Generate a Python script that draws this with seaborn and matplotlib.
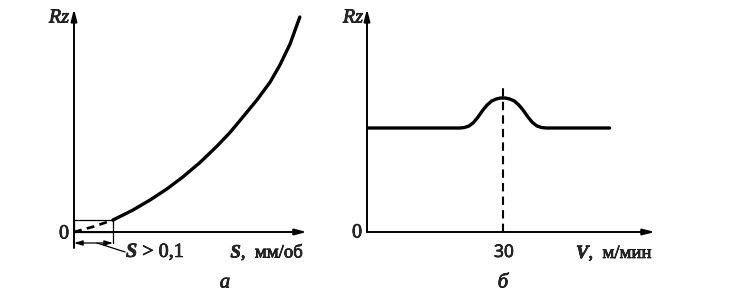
import matplotlib
matplotlib.use("Agg")
import matplotlib.pyplot as plt
import matplotlib.patheffects as pe
import seaborn as sns
from matplotlib.patches import Rectangle

# ---------------- data ----------------
# panel "а": Rz vs feed S (mm/rev), arbitrary Rz units
S_feed = [0, 0.100, 0.149, 0.195, 0.238, 0.279, 0.323, 0.367, 0.400,
          0.433, 0.469, 0.503, 0.528, 0.554, 0.579]
Rz_feed = [0, 1.2, 2.15, 3.2, 4.3, 5.5, 6.95, 8.6, 9.95,
           11.5, 13.2, 15.0, 16.7, 18.8, 21.5]
S_limit = 0.1          # boundary S > 0,1
S_dash = [0, 0.051, 0.100]
Rz_dash = [0, 0.55, 1.2]

# panel "б": Rz vs cutting speed V (m/min)
V_speed = [0, 20.5, 21.5, 22.5, 23.5, 24.5, 25.5, 26.5, 27.5, 28.5, 29.5,
           30.5, 31.5, 32.5, 33.5, 34.5, 35.5, 36.5, 37.5, 38.5, 39.5, 53.5]
Rz_speed = [10.4, 10.4, 10.45, 10.6, 10.95, 11.5, 12.15, 12.7, 13.1, 13.3,
            13.4, 13.4, 13.3, 13.1, 12.7, 12.15, 11.5, 10.95, 10.6, 10.45,
            10.4, 10.4]
V_peak = 30
V_tick_label = "30"

# ---------------- style ----------------
sns.set_style("white")
plt.rcParams["font.family"] = ["Liberation Serif", "DejaVu Serif"]
plt.rcParams["mathtext.fontset"] = "custom"
plt.rcParams["mathtext.rm"] = "Liberation Serif"
plt.rcParams["mathtext.it"] = "Liberation Serif:italic:bold"

W, H = 733, 296
fig = plt.figure(figsize=(W / 100, H / 100), dpi=100)

thick = [pe.withStroke(linewidth=0.5, foreground="black")]


def px_axes(l, r, t, b):
    return fig.add_axes([l / W, 1 - b / H, (r - l) / W, (b - t) / H])


def ftext(x, y, s, **kw):
    kw.setdefault("ha", "center")
    kw.setdefault("va", "center")
    kw.setdefault("fontsize", 13.5)
    kw.setdefault("path_effects", thick)
    fig.text(x / W, 1 - y / H, s, **kw)


ax_arrow = dict(arrowstyle="-|>,head_length=0.7,head_width=0.18", lw=1.4,
                color="black", shrinkA=0, shrinkB=0)

# ---------------- panel а ----------------
axL = px_axes(74, 310, 8, 257)
axL.set_xlim(0, 236 / 390)
axL.set_ylim(-2.5, 22.4)
axL.axis("off")

sns.lineplot(x=S_feed[1:], y=Rz_feed[1:], ax=axL, color="black", lw=2.4,
             sort=False)
sns.lineplot(x=S_dash, y=Rz_dash, ax=axL, color="black", lw=1.9,
             sort=False)
axL.lines[-1].set_dashes([3, 2])

axL.annotate("", xy=(0.597, 0), xytext=(0, 0), arrowprops=ax_arrow)
axL.annotate("", xy=(0, 22.3), xytext=(0, -1.6), arrowprops=ax_arrow)

axL.add_patch(Rectangle((0, 0), S_limit, Rz_feed[1], fill=False, lw=0.9,
                        ec="black"))
axL.plot([S_limit, S_limit], [0, -1.1], color="black", lw=0.9)
axL.annotate("", xy=(0, -1.1), xytext=(S_limit, -1.1),
             arrowprops=dict(arrowstyle="<|-|>,head_length=0.5,head_width=0.15",
                             lw=0.9, color="black", shrinkA=0, shrinkB=0))
axL.plot([0.059, 0.131], [-1.1, -2.0], color="black", lw=0.9, clip_on=False)

ftext(59, 18, "Rz", style="italic", fontsize=14.5)
ftext(64, 234, "0", fontsize=14.5)
ftext(126, 252, "$S$ > 0,1", ha="left", fontsize=14.5)
ftext(304, 252, "$S$,  мм/об", ha="right")
ftext(225, 283, "а", style="italic", fontsize=15)

# ---------------- panel б ----------------
axR = px_axes(367, 660, 8, 257)
axR.set_xlim(0, 293 / 4.533)
axR.set_ylim(-2.5, 22.4)
axR.axis("off")

sns.lineplot(x=V_speed, y=Rz_speed, ax=axR, color="black", lw=2.4,
             sort=False)
axR.plot([V_peak, V_peak], [0, 14.4], color="black", lw=1.5)
axR.lines[-1].set_dashes([4, 2.5])

axR.annotate("", xy=(63.5, 0), xytext=(0, 0), arrowprops=ax_arrow)
axR.annotate("", xy=(0, 22.3), xytext=(0, 0), arrowprops=ax_arrow)

ftext(353, 18, "Rz", style="italic", fontsize=14.5)
ftext(357, 233, "0", fontsize=14.5)
ftext(504, 253, V_tick_label, family=["Open Sans", "DejaVu Sans"], fontsize=12.5)
ftext(653, 253, "$V$,  м/мин", ha="right")
ftext(503, 283, "б", style="italic", fontsize=15)

fig.savefig("out.png", dpi=100, facecolor="white")
